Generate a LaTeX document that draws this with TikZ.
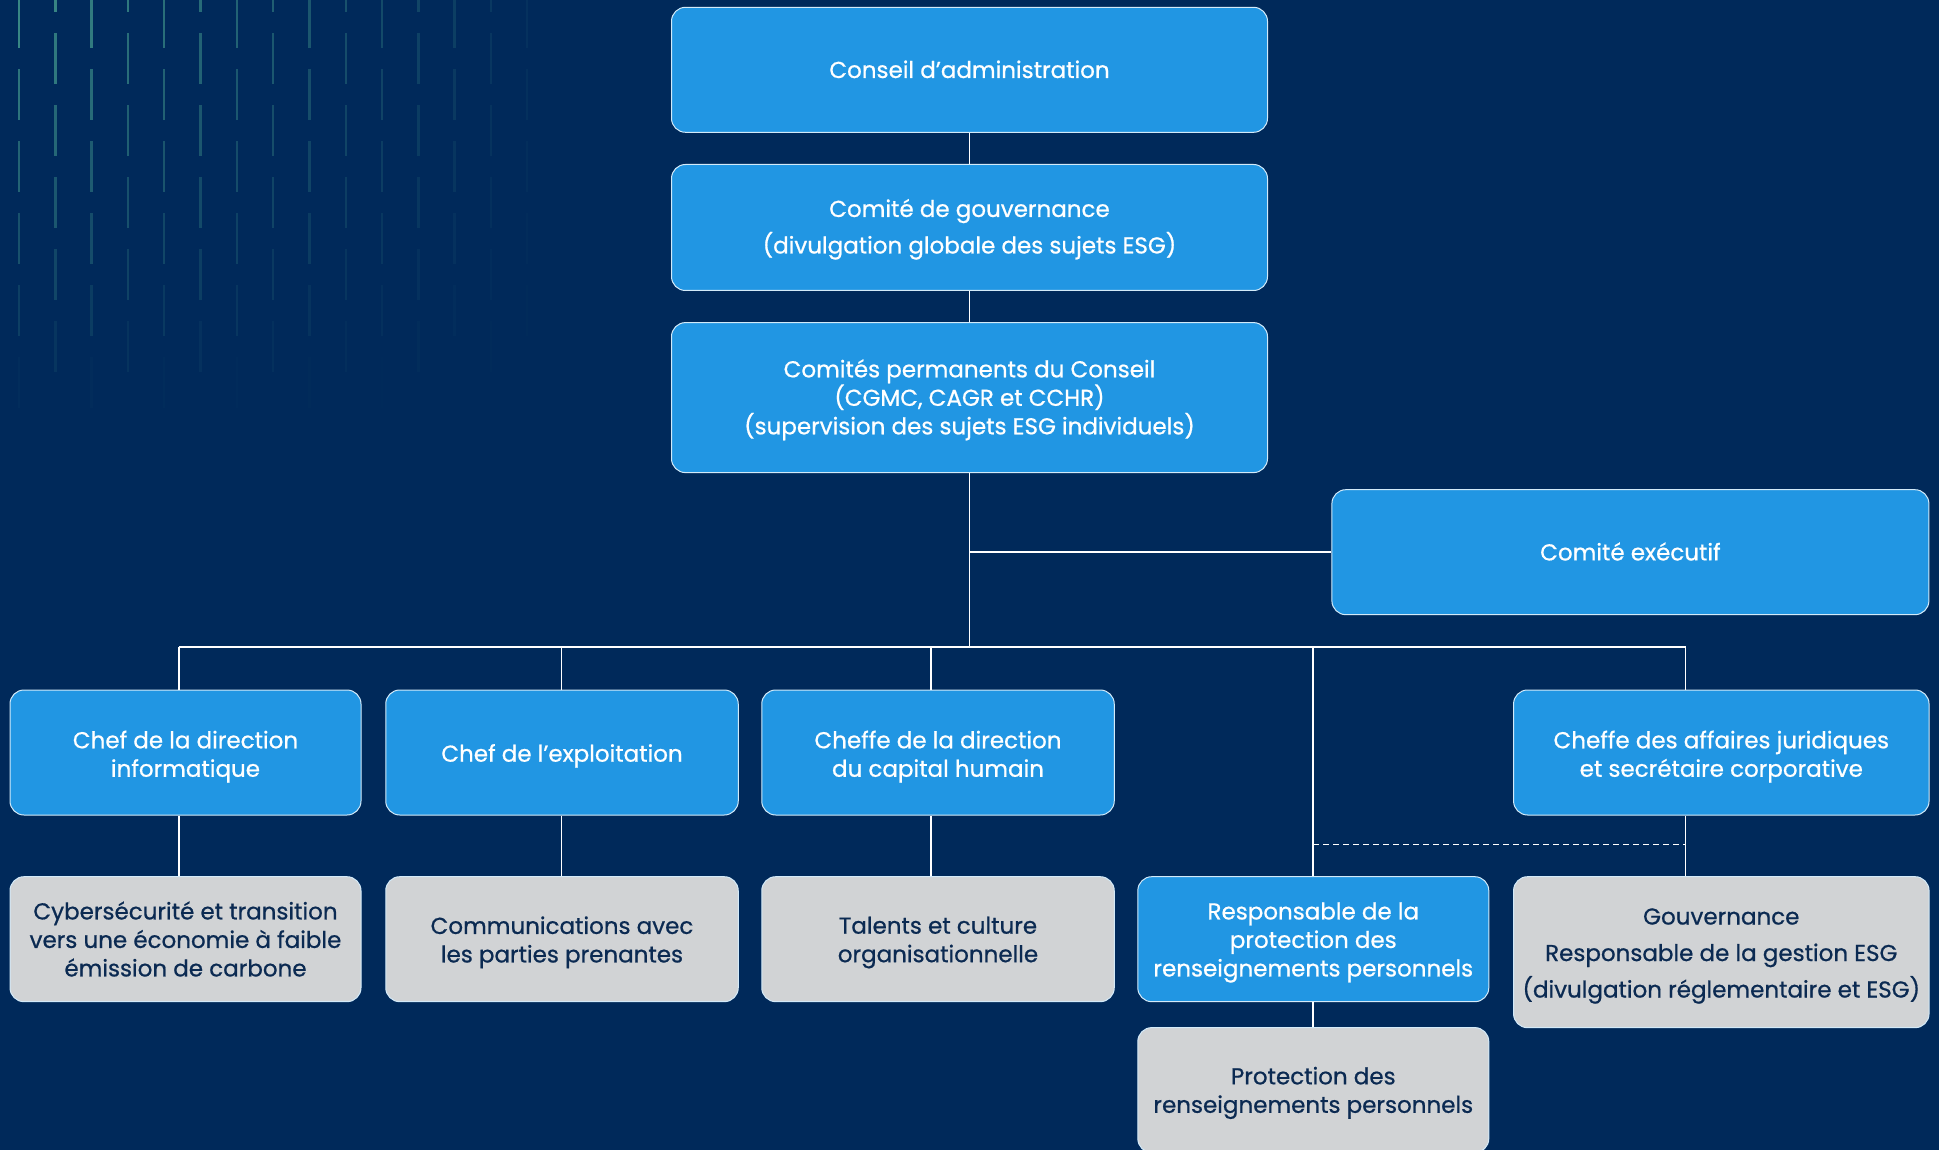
\documentclass[tikz,border=0pt]{standalone}
\usepackage{fontspec}
\setmainfont{Poppins}
\newfontfamily\orgfont{Poppins}[FakeBold=0.7]
\definecolor{bg}{HTML}{00295A}
\definecolor{boxblue}{HTML}{2196E3}
\definecolor{boxgray}{HTML}{D1D3D5}
\definecolor{navy}{HTML}{0B2A52}
\definecolor{decoteal}{HTML}{3E9089}
\tikzset{
  bluebox/.style={draw=white!80!boxblue, line width=1pt, fill=boxblue, rounded corners=14pt, inner sep=0pt},
  graybox/.style={bluebox, fill=boxgray},
  bluetext/.style={text=white, align=center, inner sep=0pt, font=\orgfont\fontsize{23}{28.5}\selectfont,
    execute at begin node=\strut, execute at end node=\strut},
  graytext/.style={bluetext, text=navy},
  conn/.style={draw=white, line width=1.8pt},
  dashconn/.style={draw=white, line width=1.6pt, dash pattern=on 6pt off 4pt},
}
% #1 kind (blue/gray), #2 name, #3 x, #4 y, #5 width, #6 height, #7 text shift, #8 text
\newcommand\orgnode[8]{%
  \node[#1box, minimum width=#5pt, minimum height=#6pt] (#2) at (#3,#4) {};
  \node[#1text] (#2t) at ([yshift=#7pt]#2.center) {#8};
}
\begin{document}
\begin{tikzpicture}[x=1pt,y=-1pt]
\useasboundingbox (0,0) rectangle (1939,1150);
\clip (0,0) rectangle (1939,1150);
\fill[bg] (0,0) rectangle (1939,1150);
% decorative dashes
\foreach \i in {0,...,14}{
  \pgfmathsetmacro\xx{19+36.3*\i}
  \pgfmathsetmacro\off{mod(\i,2)==0 ? -3 : -39}
  \foreach \j in {0,...,6}{
    \pgfmathsetmacro\ya{max(\off+72*\j,0)}
    \pgfmathsetmacro\yb{\off+72*\j+51}
    \pgfmathsetmacro\op{max(0,(1-(\ya+\yb)/2/400))*max(0,1-\xx/580)}
    \draw[decoteal, line width=2.4pt, opacity=\op] (\xx,\ya) -- (\xx,\yb);
  }
}
% nodes
\orgnode{blue}{A}{969.5}{69.8}{596}{125}{-2.5}{Conseil d’administration}
\orgnode{blue}{B}{969.5}{227.5}{596}{126}{-3}{Comité de gouvernance\\[8pt](divulgation globale des sujets ESG)}
\orgnode{blue}{C}{969.5}{397.6}{596}{150}{-3.5}{Comités permanents du Conseil\\(CGMC, CAGR et CCHR)\\(supervision des sujets ESG individuels)}
\orgnode{blue}{E}{1630.4}{552.2}{597}{125}{-2.5}{Comité exécutif}
\orgnode{blue}{b1}{185.5}{752.5}{351}{125}{-5.5}{Chef de la direction\\informatique}
\orgnode{blue}{b2}{562}{752.5}{352.5}{125}{-3.5}{Chef de l’exploitation}
\orgnode{blue}{b3}{938}{752.5}{352.5}{125}{-5.5}{Cheffe de la direction\\du capital humain}
\orgnode{blue}{b5}{1721.3}{752.5}{415.5}{125}{-5.5}{Cheffe des affaires juridiques\\et secrétaire corporative}
\orgnode{gray}{g1}{185.5}{939.2}{351}{125}{-4}{Cybersécurité et transition\\vers une économie à faible\\émission de carbone}
\orgnode{gray}{g2}{562}{939.2}{352.5}{125}{-4.5}{Communications avec\\les parties prenantes}
\orgnode{gray}{g3}{938}{939.2}{352.5}{125}{-4.5}{Talents et culture\\organisationnelle}
\orgnode{blue}{r4}{1313.3}{939.2}{351}{125}{-4.5}{Responsable de la\\protection des\\renseignements personnels}
\orgnode{gray}{g5}{1721.3}{952.2}{415.5}{151}{-5}{Gouvernance\\[8pt]Responsable de la gestion ESG\\[8pt](divulgation réglementaire et ESG)}
\orgnode{gray}{p4}{1313.3}{1090.1}{351}{125}{-4}{Protection des\\renseignements personnels}
% coordinates
\coordinate (busL) at (179.3,646.7);
\coordinate (bus2) at (561.4,646.7);
\coordinate (bus3) at (931.2,646.7);
\coordinate (busC) at (969.5,646.7);
\coordinate (bus4) at (1313.3,646.7);
\coordinate (busR) at (1685.5,646.7);
\coordinate (dashR) at (1685.5,844.6);
% connectors
\draw[conn] (A.south) -- (B.north);
\draw[conn] (B.south) -- (C.north);
\draw[conn] (C.south) -- (busC);
\draw[conn] (C.south |- E.west) -- (E.west);
\draw[conn] (busL) -- (busR);
\draw[conn] (busL) -- (busL |- b1.north);
\draw[conn] (bus2) -- (bus2 |- b2.north);
\draw[conn] (bus3) -- (bus3 |- b3.north);
\draw[conn] (bus4) -- (r4.north);
\draw[conn] (busR) -- (busR |- b5.north);
\draw[conn] (busL |- b1.south) -- (busL |- g1.north);
\draw[conn] (bus2 |- b2.south) -- (bus2 |- g2.north);
\draw[conn] (bus3 |- b3.south) -- (bus3 |- g3.north);
\draw[conn] (busR |- b5.south) -- (busR |- g5.north);
\draw[conn] (r4.south) -- (p4.north);
\draw[dashconn] (dashR -| bus4) -- (dashR);
\end{tikzpicture}
\end{document}
